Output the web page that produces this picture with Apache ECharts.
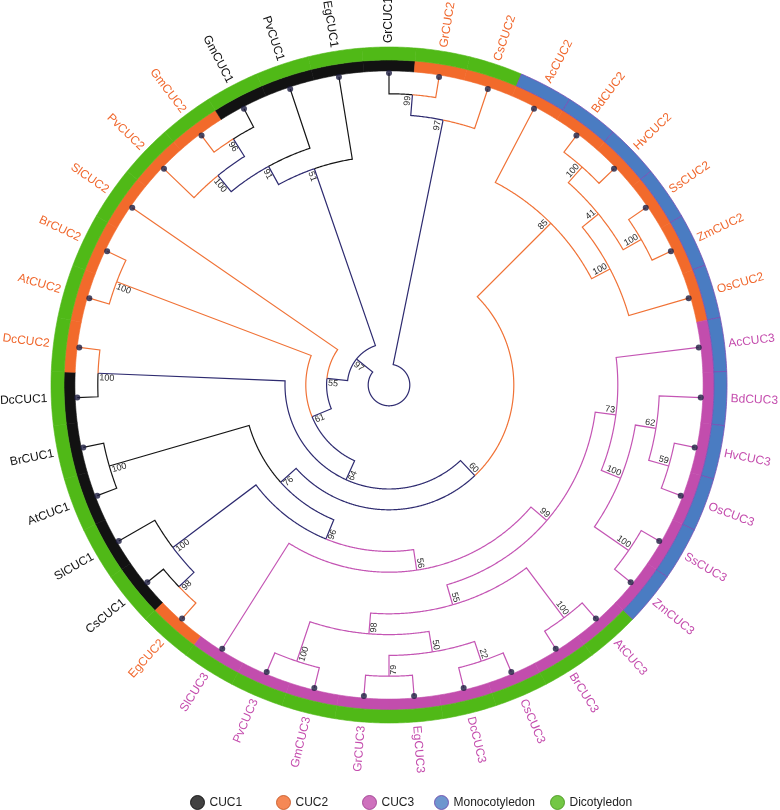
<!DOCTYPE html>
<html>
<head>
<meta charset="utf-8">
<script src="https://cdn.jsdelivr.net/npm/echarts/dist/echarts.min.js"></script>
<style>html,body{margin:0;padding:0;background:#fff}#main{width:780px;height:810px}</style>
</head>
<body>
<div id="main"></div>
<script>
// ---------------- DATA ----------------
// leaves in clockwise order, starting at the top
const leafNames = ['GrCUC1','GrCUC2','CsCUC2','AcCUC2','BdCUC2','HvCUC2','SsCUC2','ZmCUC2','OsCUC2',
  'AcCUC3','BdCUC3','HvCUC3','OsCUC3','SsCUC3','ZmCUC3','AtCUC3','BrCUC3','CsCUC3','DcCUC3','EgCUC3',
  'GrCUC3','GmCUC3','PvCUC3','SlCUC3','EgCUC2','CsCUC1','SlCUC1','AtCUC1','BrCUC1','DcCUC1','DcCUC2',
  'AtCUC2','BrCUC2','SlCUC2','PvCUC2','GmCUC2','GmCUC1','PvCUC1','EgCUC1'];
// topology with bootstrap support values (internal node labels)
const treeNewick = "(((GrCUC1,GrCUC2)99,CsCUC2)97,((((((AcCUC2,(((BdCUC2,HvCUC2)100,(SsCUC2,ZmCUC2)100)41,OsCUC2)100)85," +
  "(((((AcCUC3,((BdCUC3,(HvCUC3,OsCUC3)59)62,(SsCUC3,ZmCUC3)100)100)73," +
  "((AtCUC3,BrCUC3)100,(((CsCUC3,DcCUC3)22,(EgCUC3,GrCUC3)79)50,(GmCUC3,PvCUC3)100)98)55)99,SlCUC3)56," +
  "((EgCUC2,CsCUC1)98,SlCUC1)100)96,(AtCUC1,BrCUC1)100)76)60,(DcCUC1,DcCUC2)100)64,(AtCUC2,BrCUC2)100)61,SlCUC2)55," +
  "(((PvCUC2,(GmCUC2,GmCUC1)96)100,PvCUC1)91,EgCUC1)51)97);";
const monocotSpecies = ['Ac','Bd','Hv','Ss','Zm','Os'];
const geneGroups = ['CUC1','CUC2','CUC3'];
const legendNames = ['CUC1','CUC2','CUC3','Monocotyledon','Dicotyledon'];

// ---------------- STYLE ----------------
const FONT = '"Liberation Sans", Arial, sans-serif';
const groupFill = {CUC1:'#121212', CUC2:'#f26a2b', CUC3:'#c24dad'};
const groupText = {CUC1:'#111111', CUC2:'#f0682e', CUC3:'#c44cad'};
const lineColor = {CUC1:'#161616', CUC2:'#f07236', CUC3:'#c455b4', mixed:'#2e2b70'};
const monoFill = '#4a7cc2', dicotFill = '#50b917';
const legendStyle = [
  {color:'#121212', borderColor:'#000000'},
  {color:'#f26a2b', borderColor:'#c2501c'},
  {color:'#c24dad', borderColor:'#99368a'},
  {color:'#4a7cc2', borderColor:'#6a3fa8'},
  {color:'#50b917', borderColor:'#3d8f12'}
];
const legendLeft = [190, 276, 362, 434, 550];

// ---------------- TREE ----------------
function parseNewick(s){
  s = s.replace(/\s+/g,'');
  let i = 0;
  function node(){
    const n = {children:[]};
    if (s[i] === '('){
      i++;
      n.children.push(node());
      while (s[i] === ','){ i++; n.children.push(node()); }
      i++;
    }
    let lab = '';
    while (i < s.length && !',();'.includes(s[i])) lab += s[i++];
    if (n.children.length) n.support = lab; else n.name = lab;
    return n;
  }
  return node();
}
const geneOf = name => name.slice(-4);
const isMono = name => monocotSpecies.includes(name.slice(0,2));

const root = parseNewick(treeNewick);
function layout(n){
  if (!n.children.length){
    n.angle = leafNames.indexOf(n.name);
    n.h = 0;
    n.groups = new Set([geneOf(n.name)]);
    return;
  }
  n.children.forEach(layout);
  n.angle = (n.children[0].angle + n.children[n.children.length-1].angle)/2;
  n.h = 1 + Math.max(...n.children.map(c=>c.h));
  n.groups = new Set();
  n.children.forEach(c=>c.groups.forEach(g=>n.groups.add(g)));
}
layout(root);
const rootH = root.h;            // tips sit at radius value rootH, root at 0
const edges = [], supports = [];
function collect(n, parent){
  n.r = rootH - n.h;
  if (parent){
    const key = n.groups.size === 1 ? [...n.groups][0] : 'mixed';
    edges.push({value:[n.r, n.angle, parent.r, parent.angle], key});
  }
  if (n.children.length && n.support) supports.push({value:[n.r, n.angle], text:n.support});
  n.children.forEach(c=>collect(c, n));
}
collect(root, null);

// radius layout constants (axis units)
const R_MIN = -1, R_MAX = rootH + 2;
const BAND_IN = rootH + 0.1, BAND_MID = rootH + 0.625, BAND_OUT = rootH + 1.25, LABEL_R = rootH + 1.44;
const PX_PER_UNIT = 312 / (rootH + 1);
const N = leafNames.length;

function frame(api, r, a){
  const c = api.coord([R_MIN, 0]);
  const p = api.coord([r, a]);
  const dx = p[0]-c[0], dy = p[1]-c[1];
  const len = Math.hypot(dx, dy) || 1;
  const ux = dx/len, uy = dy/len;
  let th = Math.atan2(ux, -uy)*180/Math.PI;
  th = ((th % 360) + 360) % 360;
  if (th > 359.5) th = 0;
  const right = th < 179.99;
  const rot = (right ? 90 - th : 270 - th) * Math.PI/180;
  return {p, ux, uy, th, right, rot};
}
function arcPts(api, r, a0, a1, step){
  const n = Math.max(1, Math.ceil(Math.abs(a1-a0)/step));
  const pts = [];
  for (let k=0;k<=n;k++) pts.push(api.coord([r, a0 + (a1-a0)*k/n]));
  return pts;
}

const chart = echarts.init(document.getElementById('main'));
const option = {
  animation: false,
  backgroundColor: '#ffffff',
  polar: {center:[389,385], radius: (R_MAX - R_MIN)*PX_PER_UNIT},
  angleAxis: {type:'value', min:0, max:N, startAngle:90, clockwise:true,
    axisLine:{show:false}, axisTick:{show:false}, axisLabel:{show:false}, splitLine:{show:false}},
  radiusAxis: {type:'value', min:R_MIN, max:R_MAX,
    axisLine:{show:false}, axisTick:{show:false}, axisLabel:{show:false}, splitLine:{show:false}},
  legend: legendNames.map((nm,k)=>({
    data:[{name:nm, icon:'circle', itemStyle:{color:legendStyle[k].color, borderColor:legendStyle[k].borderColor, borderWidth:1}}],
    left: legendLeft[k], top: 795, itemWidth:14, itemHeight:14, padding:0, selectedMode:false,
    textStyle:{fontSize:12, color:'#222', fontFamily:FONT}
  })),
  series: [
    {
      type:'custom', name:'ring', coordinateSystem:'polar', silent:true, z:1,
      data: leafNames.map((nm,i)=>[rootH, i]),
      renderItem(params, api){
        const a = api.value(1), nm = leafNames[params.dataIndex];
        const band = (r0, r1) => arcPts(api, r1, a-0.5, a+0.5, 0.05).concat(arcPts(api, r0, a+0.5, a-0.5, 0.05));
        const g = geneOf(nm), mono = isMono(nm);
        return {type:'group', children:[
          {type:'polygon', shape:{points:band(BAND_IN, BAND_MID)}, style:{fill:groupFill[g], stroke:groupFill[g], lineWidth:0.6}},
          {type:'polygon', z2: mono ? 10 : 0, shape:{points:band(BAND_MID, BAND_OUT)},
            style:{fill: mono ? monoFill : dicotFill, stroke: mono ? '#7a4fb5' : dicotFill, lineWidth: mono ? 0.8 : 0.6}}
        ]};
      }
    },
    {
      type:'custom', name:'tree', coordinateSystem:'polar', silent:true, z:2,
      data: edges.map(e=>e.value),
      renderItem(params, api){
        const cr = api.value(0), ca = api.value(1), pr = api.value(2), pa = api.value(3);
        const pts = arcPts(api, pr, pa, ca, 0.03);
        pts.push(api.coord([cr, ca]));
        return {type:'polyline', shape:{points:pts},
          style:{stroke: lineColor[edges[params.dataIndex].key], lineWidth:1.2, fill:null, lineJoin:'miter'}};
      }
    },
    {
      type:'scatter', name:'tips', coordinateSystem:'polar', silent:true, z:3,
      symbol:'circle', symbolSize:6, itemStyle:{color:'#1c1c3e'},
      data: leafNames.map((nm,i)=>[rootH, i])
    },
    {
      type:'custom', name:'leafLabels', coordinateSystem:'polar', silent:true, z:4,
      data: leafNames.map((nm,i)=>[LABEL_R, i]),
      renderItem(params, api){
        const nm = leafNames[params.dataIndex];
        const f = frame(api, api.value(0), api.value(1));
        return {type:'text', x:f.p[0], y:f.p[1], rotation:f.rot,
          style:{text:nm, fill:groupText[geneOf(nm)], font:'12px ' + FONT,
            align: f.right ? 'left' : 'right', verticalAlign:'middle'}};
      }
    },
    {
      type:'custom', name:'support', coordinateSystem:'polar', silent:true, z:5,
      data: supports.map(s=>s.value),
      renderItem(params, api){
        const f = frame(api, api.value(0), api.value(1));
        const px = f.uy, py = -f.ux;   // counter-clockwise side
        const x = f.p[0] + px*4.5 - f.ux*1.5, y = f.p[1] + py*4.5 - f.uy*1.5;
        return {type:'text', x, y, rotation:f.rot,
          style:{text:supports[params.dataIndex].text, fill:'#2a2a2a', font:'9px ' + FONT,
            align: f.right ? 'right' : 'left', verticalAlign:'middle'}};
      }
    }
  ].concat(legendNames.map((nm,k)=>({
    type:'scatter', name:nm, coordinateSystem:'polar', data:[], itemStyle:{color:legendStyle[k].color}
  })))
};
chart.setOption(option);
</script>
</body>
</html>
